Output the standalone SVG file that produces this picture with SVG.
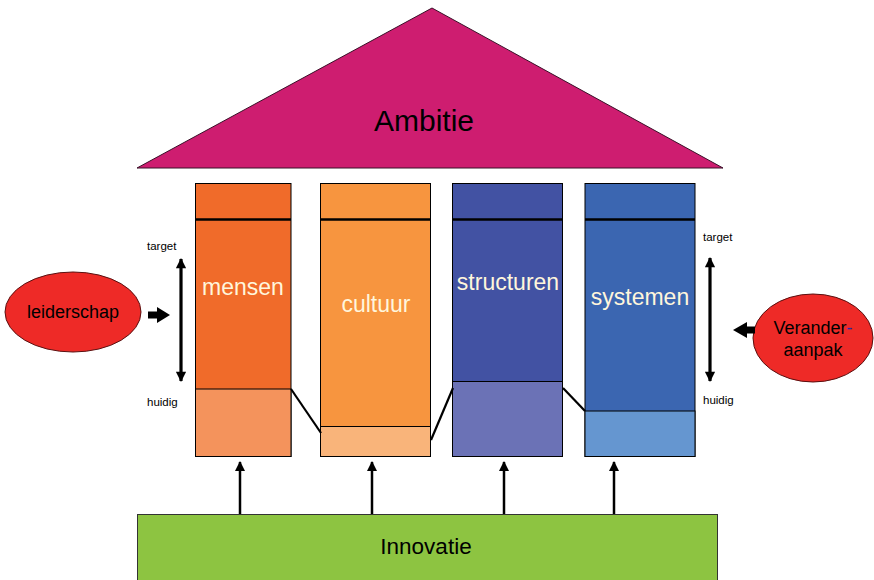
<svg xmlns="http://www.w3.org/2000/svg" width="874" height="580" viewBox="0 0 874 580">
  <style>
    text { font-family: "Liberation Sans", Arial, sans-serif; }
    .edge { stroke: #000; stroke-width: 1; }
    .col-label { fill: #FFF6DC; font-size: 23px; text-anchor: middle; }
    .scale { fill: #000; font-size: 11.5px; }
    .node-label { fill: #000; text-anchor: middle; }
    .link { stroke: #000; stroke-width: 2.2; fill: none; }
    .arrow { stroke: #000; stroke-width: 2.5; fill: none; }
    .range { stroke: #000; stroke-width: 3.2; fill: none; }
    .band { stroke: #000; stroke-width: 2.5; }
    .fat { fill: #000; stroke: none; }
  </style>
  <defs>
    <marker id="head" viewBox="0 0 10 10" refX="9" refY="5" markerWidth="4" markerHeight="4.4" orient="auto-start-reverse" markerUnits="strokeWidth">
      <path d="M0,0 L10,5 L0,10 z" fill="#000"/>
    </marker>
    <marker id="range-head" viewBox="0 0 10 10" refX="9" refY="5" markerWidth="3.8" markerHeight="3.2" orient="auto-start-reverse" markerUnits="strokeWidth">
      <path d="M0,0 L10,5 L0,10 z" fill="#000"/>
    </marker>
  </defs>

  <rect width="874" height="580" fill="#fff"/>

  <!-- roof -->
  <g id="ambitie">
    <polygon points="432,8 137,168 723,168" fill="#CE1D70" stroke="#3a1028" stroke-width="1"/>
    <text class="node-label" x="424" y="131" font-size="30">Ambitie</text>
  </g>

  <!-- pillars -->
  <g id="mensen">
    <rect x="195.5" y="183.5" width="95.5" height="273" fill="#F06B2A" class="edge"/>
    <rect x="195.5" y="389" width="95.5" height="67.5" fill="#F4935C" class="edge"/>
    <line x1="195.5" y1="219.5" x2="291" y2="219.5" class="band"/>
    <text class="col-label" x="243" y="295">mensen</text>
  </g>

  <g id="cultuur">
    <rect x="320.5" y="183.5" width="110" height="273" fill="#F7953F" class="edge"/>
    <rect x="320.5" y="426.5" width="110" height="30" fill="#F9B47A" class="edge"/>
    <line x1="320.5" y1="219.5" x2="430.5" y2="219.5" class="band"/>
    <text class="col-label" x="376" y="312">cultuur</text>
  </g>

  <g id="structuren">
    <rect x="452.5" y="183.5" width="110" height="273" fill="#4252A3" class="edge"/>
    <rect x="452.5" y="381.5" width="110" height="75" fill="#6B72B6" class="edge"/>
    <line x1="452.5" y1="219.5" x2="562.5" y2="219.5" class="band"/>
    <text class="col-label" x="508" y="290">structuren</text>
  </g>

  <g id="systemen">
    <rect x="585" y="183.5" width="110" height="273" fill="#3B66B1" class="edge"/>
    <rect x="585" y="411" width="110" height="45.5" fill="#6596D0" class="edge"/>
    <line x1="585" y1="219.5" x2="695" y2="219.5" class="band"/>
    <text class="col-label" x="640" y="305">systemen</text>
  </g>

  <!-- foundation -->
  <g id="innovatie">
    <rect x="137.5" y="514.5" width="580" height="70" fill="#8DC441" stroke="#333" stroke-width="1"/>
    <text class="node-label" x="426" y="554" font-size="22.5">Innovatie</text>
  </g>

  <!-- side drivers -->
  <g id="leiderschap">
    <ellipse cx="73" cy="312" rx="68" ry="40" fill="#EE2A27" stroke="#5a1010" stroke-width="1"/>
    <text class="node-label" x="73" y="318" font-size="18">leiderschap</text>
  </g>

  <g id="veranderaanpak">
    <ellipse cx="813" cy="338" rx="60" ry="44" fill="#EE2A27" stroke="#5a1010" stroke-width="1"/>
    <text class="node-label" x="813" y="334" font-size="18">Verander<tspan fill="#2a2aa8">-</tspan></text>
    <text class="node-label" x="813" y="356" font-size="18">aanpak</text>
  </g>

  <!-- scale labels -->
  <g id="scale-left">
    <text class="scale" x="147" y="250">target</text>
    <text class="scale" x="147" y="406">huidig</text>
  </g>
  <g id="scale-right">
    <text class="scale" x="703" y="241">target</text>
    <text class="scale" x="703" y="404">huidig</text>
  </g>

  <!-- connectors -->
  <g id="connectors">
    <!-- level line between the pillars -->
    <polyline class="link" points="291,389 321,433"/>
    <polyline class="link" points="431,440 453,388"/>
    <polyline class="link" points="563,388 585,411"/>

    <!-- target/huidig ranges -->
    <line class="range" x1="181" y1="259" x2="181" y2="381" marker-start="url(#range-head)" marker-end="url(#range-head)"/>
    <line class="range" x1="710" y1="258" x2="710" y2="381" marker-start="url(#range-head)" marker-end="url(#range-head)"/>

    <!-- drivers into the pillars (block arrows) -->
    <path class="fat" d="M148,311.5 L157,311.5 L157,307 L170,315 L157,323 L157,318.5 L148,318.5 Z"/>
    <path class="fat" d="M755,326.5 L747,326.5 L747,322 L733,330 L747,338 L747,333.5 L755,333.5 Z"/>

    <!-- innovation feeding each pillar -->
    <line class="arrow" x1="240" y1="514" x2="240" y2="462" marker-end="url(#head)"/>
    <line class="arrow" x1="372" y1="514" x2="372" y2="462" marker-end="url(#head)"/>
    <line class="arrow" x1="504" y1="514" x2="504" y2="462" marker-end="url(#head)"/>
    <line class="arrow" x1="614" y1="514" x2="614" y2="462" marker-end="url(#head)"/>
  </g>
</svg>
